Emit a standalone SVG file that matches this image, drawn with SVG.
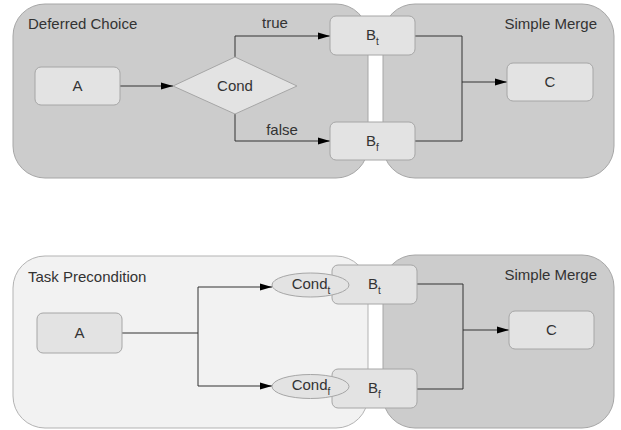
<svg xmlns="http://www.w3.org/2000/svg" width="621" height="430" viewBox="0 0 621 430">
<style>
.dark{fill:#cccccc;stroke:#a6a6a6;stroke-width:1}
.light{fill:#f2f2f2;stroke:#b3b3b3;stroke-width:1}
.node{fill:#e3e3e3;stroke:#a6a6a6;stroke-width:1}
.lbl{font-family:"Liberation Sans",Arial,sans-serif;font-size:15px;fill:#333333}
.mid{text-anchor:middle}
.end{text-anchor:end}
.sub{font-size:10px}
.edge{fill:none;stroke:#333333;stroke-width:1}
</style>
<defs>
<marker id="arr" markerUnits="userSpaceOnUse" markerWidth="12" markerHeight="8" refX="12" refY="4" orient="auto">
<path d="M0,0.5 L12,4 L0,7.5 z" fill="#000000"/>
</marker>
</defs>
<rect width="621" height="430" fill="#ffffff"/>

<!-- Top diagram containers -->
<g id="deferred-choice">
<rect class="dark" x="13" y="4" width="355" height="174" rx="32"/>
<text class="lbl" x="28" y="29">Deferred Choice</text>
</g>
<g id="simple-merge-1">
<rect class="dark" x="383" y="4" width="231" height="174" rx="32"/>
<text class="lbl end" x="597" y="29">Simple Merge</text>
</g>

<!-- Bottom diagram containers -->
<g id="task-precondition">
<rect class="light" x="13" y="256" width="355" height="172" rx="32"/>
<text class="lbl" x="28" y="282">Task Precondition</text>
</g>
<g id="simple-merge-2">
<rect class="dark" x="383" y="255" width="231" height="173" rx="32"/>
<text class="lbl end" x="597" y="280">Simple Merge</text>
</g>

<!-- Connectors -->
<g id="connectors">
<path class="edge" d="M120,86 H173" marker-end="url(#arr)"/>
<path class="edge" d="M235,57 V36 H330" marker-end="url(#arr)"/>
<path class="edge" d="M235,114 V141 H330" marker-end="url(#arr)"/>
<path class="edge" d="M415,36 H462 V141 H415"/>
<path class="edge" d="M462,82 H507" marker-end="url(#arr)"/>

<path class="edge" d="M122,333 H198"/>
<path class="edge" d="M198,386 V287 H272" marker-end="url(#arr)"/>
<path class="edge" d="M198,386 H272" marker-end="url(#arr)"/>
<path class="edge" d="M417,284 H463 V389 H417"/>
<path class="edge" d="M463,330 H509" marker-end="url(#arr)"/>
<text class="lbl mid" x="275" y="28">true</text>
<text class="lbl mid" x="282" y="135">false</text>
</g>

<!-- Top nodes -->
<g id="a1">
<rect class="node" x="35" y="67" width="85" height="38" rx="6"/>
<text class="lbl mid" x="77.5" y="91">A</text>
</g>
<g id="cond">
<polygon class="node" points="173,86 235,57 297,86 235,114"/>
<text class="lbl mid" x="235" y="91">Cond</text>
</g>
<g id="bt1">
<rect class="node" x="330" y="16" width="85" height="39" rx="6"/>
<text class="lbl mid" x="372.5" y="40">B<tspan class="sub" dy="5">t</tspan></text>
</g>
<g id="bf1">
<rect class="node" x="330" y="122" width="85" height="38" rx="6"/>
<text class="lbl mid" x="372.5" y="146">B<tspan class="sub" dy="5">f</tspan></text>
</g>
<g id="c1">
<rect class="node" x="507" y="63" width="86" height="38" rx="6"/>
<text class="lbl mid" x="550" y="87">C</text>
</g>

<!-- Bottom nodes -->
<g id="a2">
<rect class="node" x="37" y="313" width="85" height="40" rx="6"/>
<text class="lbl mid" x="79.5" y="338">A</text>
</g>
<g id="bt2">
<rect class="node" x="332" y="265" width="85" height="39" rx="6"/>
<text class="lbl mid" x="374.5" y="289">B<tspan class="sub" dy="5">t</tspan></text>
</g>
<g id="bf2">
<rect class="node" x="332" y="369" width="85" height="39" rx="6"/>
<text class="lbl mid" x="374.5" y="393">B<tspan class="sub" dy="5">f</tspan></text>
</g>
<g id="condt">
<ellipse class="node" cx="310.5" cy="285" rx="38.5" ry="12"/>
<text class="lbl mid" x="311" y="289">Cond<tspan class="sub" dy="5">t</tspan></text>
</g>
<g id="condf">
<ellipse class="node" cx="310.5" cy="386.5" rx="38.5" ry="12"/>
<text class="lbl mid" x="311" y="390">Cond<tspan class="sub" dy="5">f</tspan></text>
</g>
<g id="c2">
<rect class="node" x="509" y="311" width="85" height="38" rx="6"/>
<text class="lbl mid" x="551.5" y="335">C</text>
</g>
</svg>
